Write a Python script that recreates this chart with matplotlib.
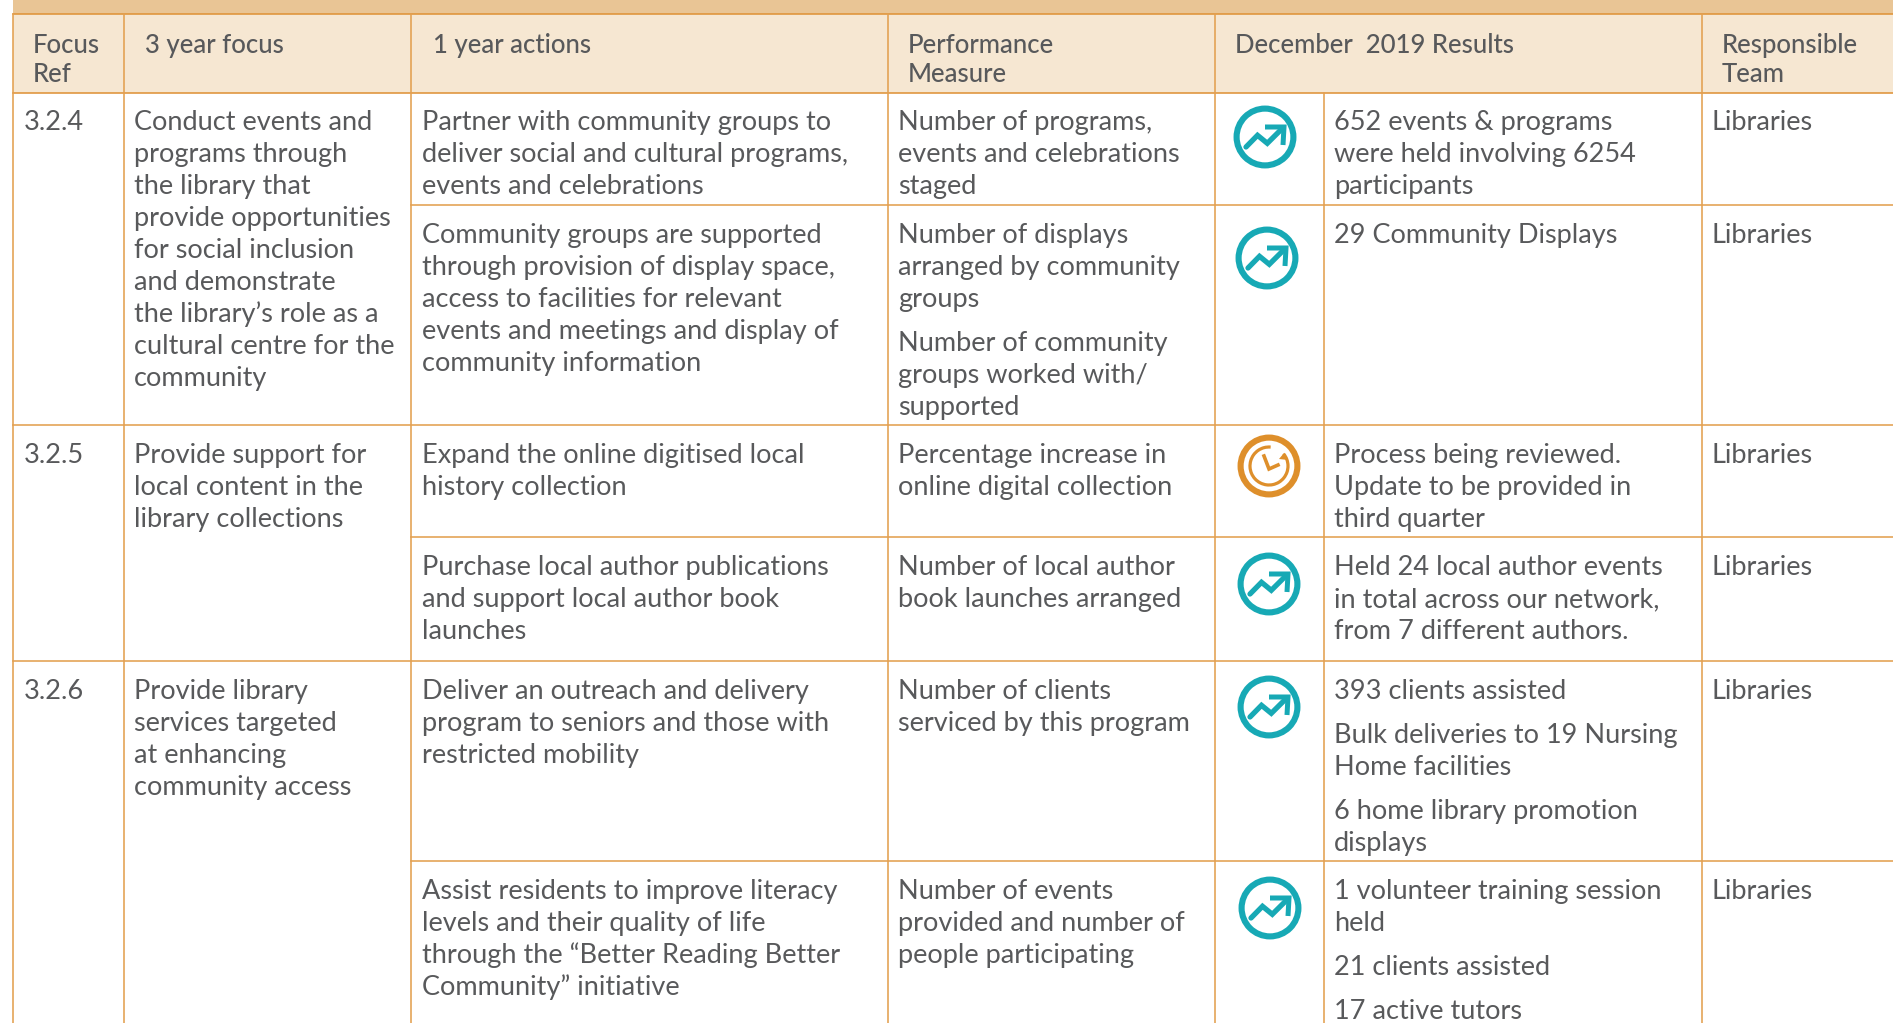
import matplotlib
matplotlib.use('Agg')
import matplotlib.pyplot as plt
from matplotlib.patches import Circle, Arc, Rectangle

plt.rcParams['font.family'] = ['Lato', 'DejaVu Sans']

headers = [["Focus", "Ref"], ["3 year focus"], ["1 year actions"],
           ["Performance", "Measure"], ["December  2019 Results"], ["Responsible", "Team"]]
refs = ["3.2.4", "3.2.5", "3.2.6"]
focus = [
    ["Conduct events and", "programs through", "the library that", "provide opportunities",
     "for social inclusion", "and demonstrate", "the library’s role as a",
     "cultural centre for the", "community"],
    ["Provide support for", "local content in the", "library collections"],
    ["Provide library", "services targeted", "at enhancing", "community access"],
]
actions = [
    ["Partner with community groups to", "deliver social and cultural programs,", "events and celebrations"],
    ["Community groups are supported", "through provision of display space,", "access to facilities for relevant",
     "events and meetings and display of", "community information"],
    ["Expand the online digitised local", "history collection"],
    ["Purchase local author publications", "and support local author book", "launches"],
    ["Deliver an outreach and delivery", "program to seniors and those with", "restricted mobility"],
    ["Assist residents to improve literacy", "levels and their quality of life",
     "through the “Better Reading Better", "Community” initiative"],
]
# each cell is a list of paragraphs
measures = [
    [["Number of programs,", "events and celebrations", "staged"]],
    [["Number of displays", "arranged by community", "groups"],
     ["Number of community", "groups worked with/", "supported"]],
    [["Percentage increase in", "online digital collection"]],
    [["Number of local author", "book launches arranged"]],
    [["Number of clients", "serviced by this program"]],
    [["Number of events", "provided and number of", "people participating"]],
]
results = [
    [["652 events & programs", "were held involving 6254", "participants"]],
    [["29 Community Displays"]],
    [["Process being reviewed.", "Update to be provided in", "third quarter"]],
    [["Held 24 local author events", "in total across our network,", "from 7 different authors."]],
    [["393 clients assisted"], ["Bulk deliveries to 19 Nursing", "Home facilities"],
     ["6 home library promotion", "displays"]],
    [["1 volunteer training session", "held"], ["21 clients assisted"], ["17 active tutors"]],
]
status = ["up", "up", "clock", "up", "up", "up"]
team = "Libraries"

W, H = 1893, 1023
TEXT = '#58595B'
LINE = '#E3A050'
TEAL = '#17A9B5'
ORANGE = '#DE8F2B'
BODY = 19.5
LEAD = 32
GAP = 12
LW = 1.15

col_x = [13, 124, 411, 888, 1215, 1702]
icon_x = 1324
head_top, head_bot = 14, 93
row_y = [93, 205, 425, 537, 661, 861, 1023]
first_base = [130, 243, 463, 575, 699, 899]
ref_rows = [0, 2, 4]
icon_pos = [(1265, 137), (1267, 258), (1269, 466), (1269, 584), (1269, 707), (1270, 908)]

fig = plt.figure(figsize=(W / 100, H / 100), dpi=100)
ax = fig.add_axes([0, 0, 1, 1])
ax.set_xlim(0, W)
ax.set_ylim(H, 0)
ax.axis('off')


def put(x, y, lines, size=BODY, lead=LEAD, weight='normal'):
    for i, s in enumerate(lines):
        ax.text(x, y + i * lead, s, fontsize=size, color=TEXT, va='baseline', ha='left', fontweight=weight)


def put_paras(x, y, paras):
    for p in paras:
        put(x, y, p)
        y += len(p) * LEAD + GAP


def draw_up(cx, cy):
    ax.add_patch(Circle((cx, cy), 28.4, fill=False, ec=TEAL, lw=4.4))
    ax.plot([cx - 19, cx - 7.5, cx + 2.3, cx + 17.7], [cy + 10, cy - 1.7, cy + 6.3, cy - 9],
            color=TEAL, lw=3.8, solid_capstyle='round', solid_joinstyle='miter')
    ax.plot([cx, cx + 19, cx + 18], [cy - 10, cy - 10, cy + 8],
            color=TEAL, lw=3.6, solid_capstyle='butt', solid_joinstyle='miter')


def draw_clock(cx, cy):
    ax.add_patch(Circle((cx, cy), 28.4, fill=False, ec=ORANGE, lw=4.4))
    ax.add_patch(Arc((cx, cy), 38, 38, theta1=-40, theta2=275, ec=ORANGE, lw=2.3))
    ax.plot([cx - 5, cx, cx + 9], [cy - 10, cy + 3, cy - 1], color=ORANGE, lw=2.6, solid_joinstyle='miter')
    ax.fill([cx + 15, cx + 10, cx + 19], [cy - 13, cy - 7, cy - 6], color=ORANGE, lw=0)


# header band and fill
ax.add_patch(Rectangle((col_x[0], 0), W - col_x[0], head_top, fc='#E9C595', ec='none'))
ax.add_patch(Rectangle((col_x[0], head_top), W - col_x[0], head_bot - head_top, fc='#F6E7D2', ec='none'))

# grid
for y in [head_top, head_bot]:
    ax.plot([col_x[0], W], [y, y], color='#DF9339', lw=LW)
for x in col_x:
    ax.plot([x, x], [head_top, H], color=LINE, lw=LW)
ax.plot([icon_x, icon_x], [head_bot, H], color=LINE, lw=LW)
for y in row_y[1:-1]:
    left = col_x[0]
    if y in (row_y[1], row_y[3], row_y[5]):
        left = col_x[2]
    ax.plot([left, W], [y, y], color=LINE, lw=LW)

# header text
head_x = [33, 145, 433, 908, 1235, 1722]
for x, h in zip(head_x, headers):
    put(x, 53, h, size=18.5, lead=29, weight='medium')

# body
for r, f, rr in zip(refs, focus, ref_rows):
    put(24, first_base[rr], [r])
    put(134, first_base[rr], f)
for i in range(6):
    put(421.5, first_base[i], actions[i])
    put_paras(898, first_base[i], measures[i])
    put_paras(1334, first_base[i], results[i])
    put(1711, first_base[i], [team])
    if status[i] == "up":
        draw_up(*icon_pos[i])
    else:
        draw_clock(*icon_pos[i])

fig.savefig('out.png', dpi=100)
